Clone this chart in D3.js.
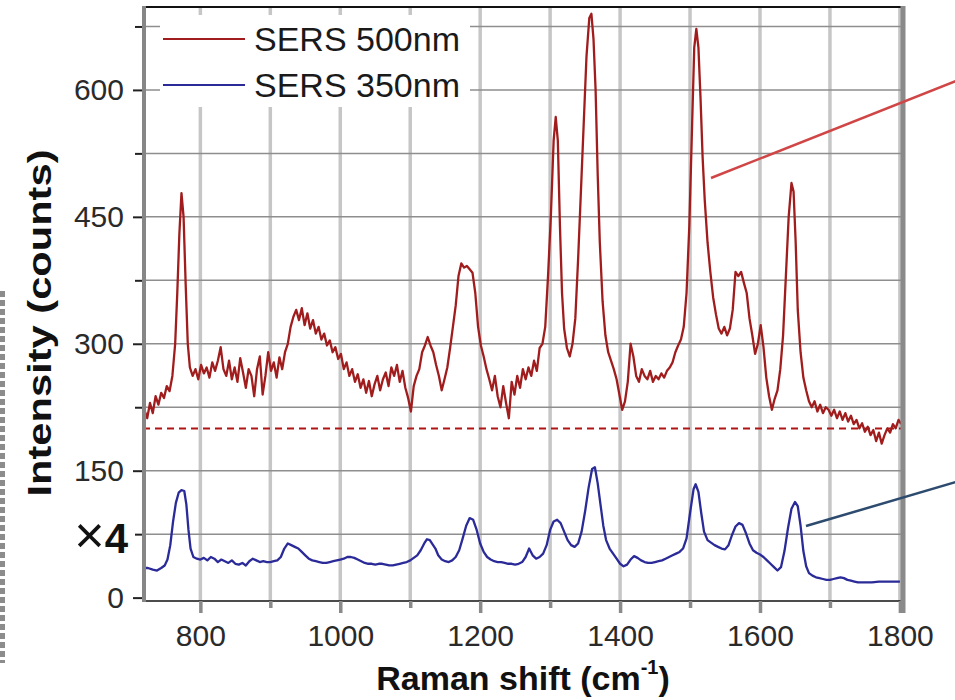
<!DOCTYPE html>
<html>
<head>
<meta charset="utf-8">
<script src="https://cdn.jsdelivr.net/npm/d3@7"></script>
<style>
  body { margin: 0; background: #fff; }
  svg { display: block; font-family: "Liberation Sans", Arial, sans-serif; }
</style>
</head>
<body>
<div id="chart"></div>
<script>
// SERS 500nm spectrum (Raman shift in cm-1, intensity in counts)
const shift500 = [720,724,728,732,736,740,744,748,752,756,760,764,767,770,773,776,779,782,785,789,
  793,797,801,805,809,813,817,821,825,829,833,837,841,845,849,853,857,861,865,869,
  873,877,881,885,889,893,897,901,905,909,913,917,921,925,929,933,937,941,945,949,
  953,957,961,965,969,973,977,981,985,989,993,997,1001,1005,1009,1013,1017,1021,1025,1029,
  1033,1037,1041,1045,1049,1053,1057,1061,1065,1069,1073,1077,1081,1085,1089,1093,1097,1101,1105,1109,
  1113,1117,1121,1125,1129,1133,1137,1141,1145,1149,1153,1157,1161,1165,1169,1173,1177,1181,1185,1189,
  1193,1197,1201,1205,1209,1213,1217,1221,1225,1229,1233,1237,1241,1245,1249,1253,1257,1261,1265,1269,
  1273,1277,1281,1285,1289,1293,1297,1301,1305,1308,1311,1314,1317,1320,1324,1328,1332,1336,1340,1344,
  1348,1352,1356,1359,1362,1365,1368,1371,1375,1379,1383,1387,1391,1395,1399,1403,1407,1411,1415,1419,
  1423,1427,1431,1435,1439,1443,1447,1451,1455,1459,1463,1467,1471,1475,1479,1483,1487,1491,1495,1499,
  1503,1506,1509,1512,1515,1518,1521,1525,1529,1533,1537,1541,1545,1549,1553,1557,1561,1565,1569,1573,
  1577,1581,1585,1589,1593,1597,1601,1605,1609,1613,1617,1621,1625,1629,1633,1637,1641,1645,1648,1651,
  1654,1658,1662,1666,1670,1674,1678,1682,1686,1690,1694,1698,1702,1706,1710,1714,1718,1722,1726,1730,
  1734,1738,1742,1746,1750,1754,1758,1762,1766,1770,1774,1778,1782,1786,1790,1794,1798,1802];
const counts500 = [222,212,230,218,238,228,242,236,250,244,262,300,360,430,478,450,370,300,272,262,
  270,258,275,265,272,260,278,268,280,296,270,262,280,258,272,255,283,266,248,270,
  262,238,270,285,240,262,290,268,278,260,284,270,290,300,320,332,340,328,342,322,
  336,318,328,312,320,305,312,298,304,290,296,282,288,270,278,262,270,255,264,248,
  258,242,256,238,252,262,245,258,266,250,272,262,275,255,268,248,236,220,250,262,
  270,290,298,308,298,290,275,262,245,258,272,295,320,345,380,395,390,392,388,384,
  360,320,298,285,270,258,245,262,238,225,250,230,212,255,240,262,248,270,258,272,
  262,280,268,295,300,320,380,450,540,568,540,440,360,318,295,285,300,330,400,480,
  560,640,685,690,660,600,500,420,350,310,290,280,270,258,240,222,232,255,300,285,
  262,255,270,262,258,268,255,262,258,265,260,268,272,278,290,298,305,320,360,440,
  560,650,672,650,590,520,470,420,385,355,335,318,312,320,310,318,340,385,380,385,
  372,360,330,310,288,300,322,296,260,238,222,235,245,270,310,380,450,490,480,420,
  340,290,260,245,232,225,232,220,228,218,225,222,215,222,212,220,210,218,208,215,
  205,210,200,206,196,202,192,198,185,195,182,192,200,195,205,200,210,205];

// SERS 350nm spectrum, scaled x4
const shift350 = [718,725,732,738,744,749,753,757,761,765,769,773,777,780,783,786,790,795,800,805,
  810,815,820,825,830,835,840,845,850,855,860,865,870,875,880,885,890,895,900,905,
  910,915,920,925,930,935,940,945,950,955,960,965,970,975,980,985,990,995,1000,1005,
  1010,1015,1020,1025,1030,1035,1040,1045,1050,1055,1060,1065,1070,1075,1080,1085,1090,1095,1100,1105,
  1110,1115,1120,1124,1128,1132,1136,1140,1145,1150,1155,1160,1165,1170,1175,1180,1185,1190,1195,1200,
  1205,1210,1215,1220,1225,1230,1235,1240,1245,1250,1255,1260,1265,1270,1275,1280,1285,1290,1295,1300,
  1305,1310,1315,1320,1325,1330,1335,1340,1345,1350,1355,1360,1364,1368,1372,1376,1380,1385,1390,1395,
  1400,1405,1410,1415,1420,1425,1430,1435,1440,1445,1450,1455,1460,1465,1470,1475,1480,1485,1490,1495,
  1500,1505,1508,1512,1516,1520,1525,1530,1535,1540,1545,1550,1555,1560,1565,1570,1575,1580,1585,1590,
  1595,1600,1605,1610,1615,1620,1625,1630,1635,1640,1645,1650,1654,1658,1662,1666,1670,1675,1680,1685,
  1690,1695,1700,1705,1710,1715,1720,1725,1730,1735,1740,1745,1750,1760,1770,1780,1790,1800];
const counts350 = [35,35,33,32,35,38,45,62,90,112,124,127,126,110,80,58,48,46,45,47,
  44,48,46,42,45,43,41,44,40,39,41,38,43,46,44,42,43,42,42,43,
  44,48,58,64,62,60,58,54,50,46,44,43,42,41,41,42,43,44,45,46,
  48,48,47,45,43,41,40,40,39,40,40,39,38,38,39,40,41,42,44,47,
  50,56,64,69,68,63,58,50,45,43,42,44,48,56,70,85,94,92,80,64,
  54,48,45,43,42,42,41,40,40,39,40,42,48,58,50,46,48,52,62,80,
  90,92,88,78,68,62,60,64,78,102,130,152,154,135,110,85,68,58,52,46,
  40,37,39,45,49,47,44,42,41,41,42,43,44,46,48,50,52,54,58,70,
  100,128,134,125,100,78,68,65,62,60,58,57,62,74,84,88,86,76,64,56,
  53,51,48,44,40,36,32,36,55,82,105,113,108,85,55,37,29,26,24,23,
  22,21,21,22,23,24,23,21,20,19,18,18,18,18,19,19,19,19];

const yMajor = [0, 150, 300, 450, 600],
      yMinor = [75, 225, 375, 525, 675],
      xMajor = [800, 1000, 1200, 1400, 1600, 1800],
      xMinor = [900, 1100, 1300, 1500, 1700],
      baseline500 = 200,
      seriesNames = ["SERS 500nm", "SERS 350nm"];

const width = 955, height = 700,
      margin = ({ top: 7, right: 53, bottom: 99, left: 143 });

const red = "#a11d1d", blue = "#2a2a98";

let svg = d3.select("#chart")
    .append("svg")
    .attr("width", width)
    .attr("height", height);

let x = d3.scaleLinear()
    .domain([718, 1803])
    .range([margin.left, width - margin.right]);

let y = d3.scaleLinear()
    .domain([-4, 698])
    .range([height - margin.bottom, margin.top]);

const x0 = margin.left, x1 = width - margin.right,
      yTop = margin.top, yBot = height - margin.bottom;

// grid: vertical light bars, horizontal thin grey lines
svg.append("g")
    .selectAll("line")
    .data(xMajor.concat(xMinor))
    .join("line")
    .attr("x1", d => x(d)).attr("x2", d => x(d))
    .attr("y1", yTop).attr("y2", yBot)
    .attr("stroke", "#c6c6c6")
    .attr("stroke-width", 3.5);

svg.append("g")
    .selectAll("line")
    .data(yMajor.slice(1).concat(yMinor))
    .join("line")
    .attr("x1", x0).attr("x2", x1)
    .attr("y1", d => y(d)).attr("y2", d => y(d))
    .attr("stroke", "#8e8e8e")
    .attr("stroke-width", 1.5);

// legend background hides the grid
svg.append("rect")
    .attr("x", 160).attr("y", 15)
    .attr("width", 310).attr("height", 92)
    .attr("fill", "#fff");

// dashed reference line at 200 counts
svg.append("line")
    .attr("x1", x0).attr("x2", x1)
    .attr("y1", y(baseline500)).attr("y2", y(baseline500))
    .attr("stroke", "#b01515")
    .attr("stroke-width", 2)
    .attr("stroke-dasharray", "7,5");

let line = d3.line()
    .x(d => x(d[0]))
    .y(d => y(d[1]));

svg.append("path")
    .datum(shift500.map((s, i) => [s, counts500[i]]))
    .attr("d", line)
    .attr("fill", "none")
    .attr("stroke", red)
    .attr("stroke-width", 2.3)
    .attr("stroke-linejoin", "round");

svg.append("path")
    .datum(shift350.map((s, i) => [s, counts350[i]]))
    .attr("d", line)
    .attr("fill", "none")
    .attr("stroke", blue)
    .attr("stroke-width", 2.3)
    .attr("stroke-linejoin", "round");

// frame
svg.append("line").attr("x1", x0).attr("x2", x1 + 2).attr("y1", yTop).attr("y2", yTop)
    .attr("stroke", "#111").attr("stroke-width", 2);
svg.append("line").attr("x1", x0).attr("x2", x1 + 2).attr("y1", yBot).attr("y2", yBot)
    .attr("stroke", "#111").attr("stroke-width", 1.5);

// axes
let yAxis = svg.append("g")
    .attr("transform", `translate(${x0},0)`)
    .call(d3.axisLeft(y).tickValues(yMajor).tickSize(10).tickPadding(9).tickFormat(d3.format("d")));
let yAxisMinor = svg.append("g")
    .attr("transform", `translate(${x0},0)`)
    .call(d3.axisLeft(y).tickValues(yMinor).tickSize(8).tickFormat(""));

let xAxis = svg.append("g")
    .attr("transform", `translate(0,${yBot})`)
    .call(d3.axisBottom(x).tickValues(xMajor).tickSize(12).tickPadding(12).tickFormat(d3.format("d")));
let xAxisMinor = svg.append("g")
    .attr("transform", `translate(0,${yBot})`)
    .call(d3.axisBottom(x).tickValues(xMinor).tickSize(7).tickFormat(""));

svg.selectAll(".domain").remove();
yAxis.selectAll(".tick line").attr("stroke", "#222").attr("stroke-width", 2);
yAxisMinor.selectAll(".tick line").attr("stroke", "#222").attr("stroke-width", 2);
xAxis.selectAll(".tick line").attr("stroke", "#8a8a8a").attr("stroke-width", 3.5);
xAxisMinor.selectAll(".tick line").attr("stroke", "#8a8a8a").attr("stroke-width", 3.5);
svg.selectAll(".tick text")
    .attr("font-size", 30)
    .attr("font-family", "Liberation Sans, Arial, sans-serif")
    .attr("fill", "#2a2a2a");

// left axis (thick grey) and right border
svg.append("line").attr("x1", x0 + 1).attr("x2", x0 + 1).attr("y1", yTop - 1).attr("y2", yBot + 1)
    .attr("stroke", "#868686").attr("stroke-width", 4);
svg.append("line").attr("x1", x1 + 1).attr("x2", x1 + 1).attr("y1", yTop - 1).attr("y2", yBot + 12)
    .attr("stroke", "#8a8a8a").attr("stroke-width", 5);

// legend
const legendColors = [red, blue];
let legend = svg.append("g")
    .selectAll("g")
    .data(seriesNames)
    .join("g")
    .attr("transform", (d, i) => `translate(0,${39 + i * 46})`);
legend.append("line")
    .attr("x1", 163).attr("x2", 245)
    .attr("stroke", (d, i) => legendColors[i])
    .attr("stroke-width", 2);
legend.append("text")
    .attr("x", 254).attr("y", 12)
    .attr("font-size", 34)
    .attr("fill", "#1a1a1a")
    .text(d => d);

// pointer lines to the (cropped) insets on the right
svg.append("line").attr("x1", 711).attr("y1", 178).attr("x2", 956).attr("y2", 81)
    .attr("stroke", "#d04646").attr("stroke-width", 2.5);
svg.append("line").attr("x1", 806).attr("y1", 526).attr("x2", 956).attr("y2", 482)
    .attr("stroke", "#2d4b6e").attr("stroke-width", 2.5);

// x4 scale note
let note = svg.append("text")
    .attr("x", 128).attr("y", 553)
    .attr("text-anchor", "end")
    .attr("fill", "#111");
note.append("tspan").attr("font-size", 52).attr("font-weight", "normal").text("\u00d7");
note.append("tspan").attr("font-size", 42).attr("font-weight", "bold").text("4");

// axis titles
svg.append("text")
    .attr("transform", "translate(51,323) rotate(-90)")
    .attr("text-anchor", "middle")
    .attr("font-size", 34)
    .attr("font-weight", "bold")
    .attr("fill", "#111")
    .attr("textLength", 347)
    .attr("lengthAdjust", "spacingAndGlyphs")
    .text("Intensity (counts)");

let xTitle = svg.append("text")
    .attr("x", 523).attr("y", 690)
    .attr("text-anchor", "middle")
    .attr("font-size", 34)
    .attr("font-weight", "bold")
    .attr("fill", "#111");
xTitle.append("tspan").text("Raman shift (cm");
xTitle.append("tspan").attr("font-size", 20).attr("dy", -16).text("-1");
xTitle.append("tspan").attr("dy", 16).text(")");

// dashed grey edge of the neighbouring panel
svg.append("line").attr("x1", 2.5).attr("x2", 2.5).attr("y1", 291).attr("y2", 663)
    .attr("stroke", "#8c8c8c").attr("stroke-width", 5)
    .attr("stroke-dasharray", "6,3");
</script>
</body>
</html>
